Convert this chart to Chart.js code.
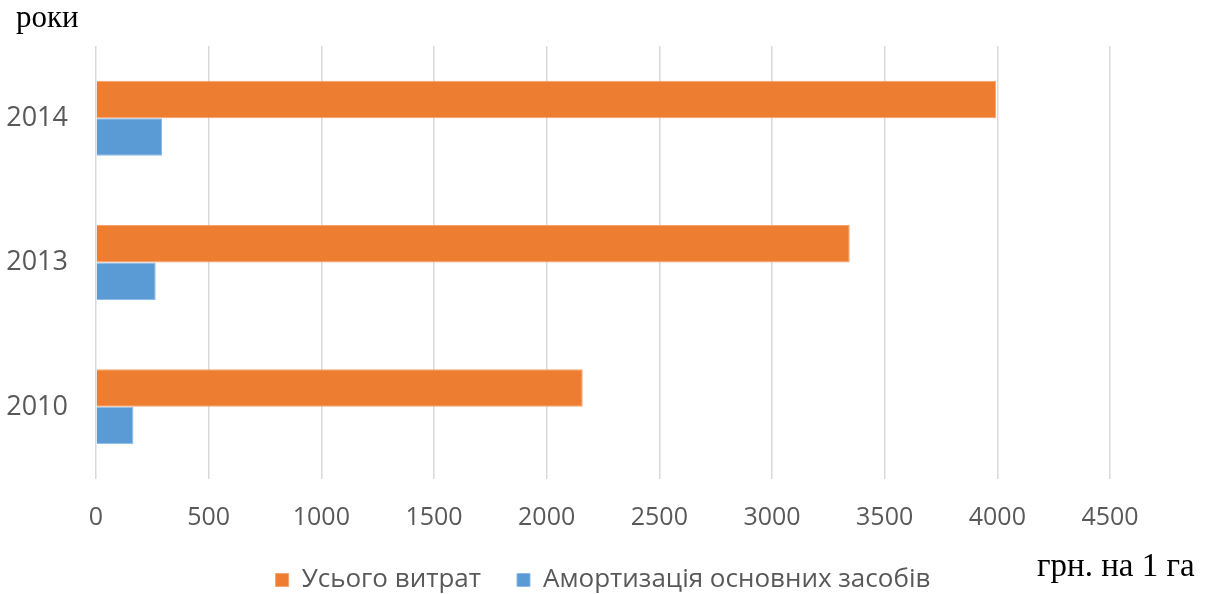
<!DOCTYPE html>
<html>
<head>
<meta charset="utf-8">
<script src="https://cdn.jsdelivr.net/npm/chart.js@4/dist/chart.umd.min.js"></script>
<style>
  html, body { margin: 0; padding: 0; background: #fff; }
  #wrap { position: relative; width: 1205px; height: 594px; overflow: hidden; }
  canvas { position: absolute; left: 0; top: 0; }
  .lbl { position: absolute; font-family: "Liberation Serif", "Times New Roman", serif; color: #000; white-space: nowrap; line-height: 1; }
</style>
</head>
<body>
<div id="wrap">
  <canvas id="c" width="1205" height="594"></canvas>
  <div class="lbl" style="left:16px; top:1px; font-size:31px;">роки</div>
  <div class="lbl" style="left:1037px; top:549px; font-size:33px;">грн. на 1 га</div>
</div>
<script>
const categories = ['2014', '2013', '2010'];
const totalCosts = [3995, 3345, 2160];
const depreciation = [293, 265, 166];
const xTicks = [0, 500, 1000, 1500, 2000, 2500, 3000, 3500, 4000, 4500];
const seriesNames = ['Усього витрат', 'Амортизація основних засобів'];

const ctx = document.getElementById('c').getContext('2d');
new Chart(ctx, {
  type: 'bar',
  data: {
    labels: categories,
    datasets: [
      { label: seriesNames[0], data: totalCosts, backgroundColor: '#ED7D31', borderColor: '#F4A36C', borderWidth: 1, categoryPercentage: 0.52, barPercentage: 1 },
      { label: seriesNames[1], data: depreciation, backgroundColor: '#5B9BD5', borderColor: '#8DBBE5', borderWidth: 1, categoryPercentage: 0.52, barPercentage: 1 }
    ]
  },
  options: {
    indexAxis: 'y',
    responsive: false,
    animation: false,
    devicePixelRatio: 1,
    layout: { padding: { top: 46, right: 95, left: 0, bottom: -9 } },
    plugins: {
      tooltip: { enabled: false },
      legend: {
        position: 'bottom',
        fullSize: false,
        labels: {
          font: { family: 'Open Sans', size: 26 },
          color: '#595959',
          boxWidth: 13,
          boxHeight: 13,
          padding: 36,
          useBorderRadius: false
        }
      }
    },
    scales: {
      x: {
        min: 0, max: 4500,
        afterBuildTicks: (s) => { s.ticks = xTicks.map(v => ({ value: v })); },
        afterFit: (s) => { s.height = 52; },
        grid: { color: '#d9d9d9', lineWidth: 1.5, drawTicks: false },
        border: { display: false },
        ticks: { font: { family: 'Open Sans', size: 25 }, color: '#595959', padding: 24, maxRotation: 0, callback: (v) => String(v) }
      },
      y: {
        afterFit: (s) => { s.width = 96; },
        grid: { display: false },
        border: { display: false },
        ticks: { font: { family: 'Open Sans', size: 27 }, color: '#595959', padding: 20 }
      }
    }
  }
});
</script>
</body>
</html>
